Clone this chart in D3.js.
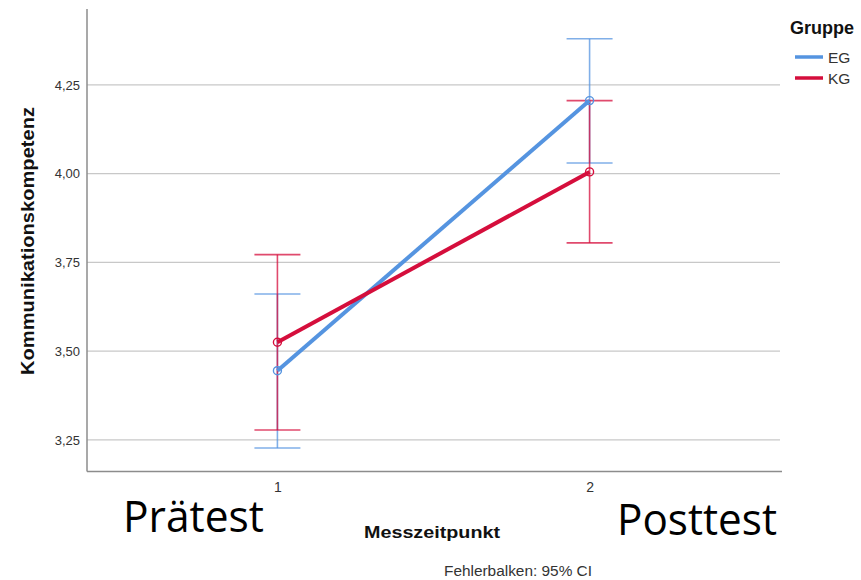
<!DOCTYPE html>
<html><head><meta charset="utf-8">
<script src="https://cdn.jsdelivr.net/npm/d3@7"></script>
<style>body{margin:0;background:#fff}svg{display:block}</style>
</head><body>
<svg id="c" width="861" height="580"></svg>
<script>
// ---- data ----
const timepoints = [1, 2];
const groups = ["EG", "KG"];
const egMean = [3.445, 4.206];
const egLower = [3.227, 4.030];
const egUpper = [3.661, 4.380];
const kgMean = [3.525, 4.005];
const kgLower = [3.278, 3.805];
const kgUpper = [3.772, 4.206];
const yTicks = [3.25, 3.50, 3.75, 4.00, 4.25];
const groupColors = ["#5594E0", "#D50E3C"];

const series = [
  {name: groups[0], mean: egMean, lo: egLower, hi: egUpper, color: groupColors[0]},
  {name: groups[1], mean: kgMean, lo: kgLower, hi: kgUpper, color: groupColors[1]}
];

const svg = d3.select("#c");
const L = 87, R = 780, T = 9, B = 471.5;

const x = d3.scalePoint().domain(timepoints).range([L, R]).padding(0.61);
const y = d3.scaleLinear().domain([3.161, 4.464]).range([B, T]);

// gridlines
svg.append("g").selectAll("line").data(yTicks).join("line")
  .attr("x1", L).attr("x2", R)
  .attr("y1", d => y(d)).attr("y2", d => y(d))
  .attr("stroke", "#c8c8c8").attr("stroke-width", 1.3);

// y axis
const yAxis = svg.append("g").attr("transform", `translate(${L},0)`)
  .call(d3.axisLeft(y).tickValues(yTicks).tickSize(0).tickPadding(7)
    .tickFormat(d => d3.format(".2f")(d).replace(".", ",")));
yAxis.select(".domain").remove();
yAxis.selectAll("text").attr("font-family", "Liberation Sans, Arial, sans-serif")
  .attr("font-size", 13).attr("fill", "#333");

// x axis
const xAxis = svg.append("g").attr("transform", `translate(0,${B})`)
  .call(d3.axisBottom(x).tickSize(0).tickPadding(11).tickFormat(d3.format("d")));
xAxis.select(".domain").remove();
xAxis.selectAll("text").attr("font-family", "Liberation Sans, Arial, sans-serif")
  .attr("font-size", 14).attr("fill", "#333");

// axis lines
svg.append("line").attr("x1", L).attr("x2", L).attr("y1", T).attr("y2", B)
  .attr("stroke", "#8c8c8c").attr("stroke-width", 1.5);
svg.append("line").attr("x1", L).attr("x2", R + 2).attr("y1", B).attr("y2", B)
  .attr("stroke", "#8c8c8c").attr("stroke-width", 1.5);

// error bars
const cap = 23;
series.forEach(s => {
  const g = svg.append("g").attr("stroke", s.color).attr("stroke-opacity", 0.75)
    .attr("stroke-width", 1.6).attr("fill", "none");
  timepoints.forEach((t, i) => {
    g.append("line").attr("x1", x(t)).attr("x2", x(t)).attr("y1", y(s.lo[i])).attr("y2", y(s.hi[i]));
    g.append("line").attr("x1", x(t) - cap).attr("x2", x(t) + cap).attr("y1", y(s.lo[i])).attr("y2", y(s.lo[i]));
    g.append("line").attr("x1", x(t) - cap).attr("x2", x(t) + cap).attr("y1", y(s.hi[i])).attr("y2", y(s.hi[i]));
  });
});

// lines and markers
const line = d3.line().x((d, i) => x(timepoints[i])).y(d => y(d));
series.forEach(s => {
  svg.append("path").datum(s.mean).attr("d", line)
    .attr("fill", "none").attr("stroke", s.color).attr("stroke-width", 4);
  svg.append("g").selectAll("circle").data(s.mean).join("circle")
    .attr("cx", (d, i) => x(timepoints[i])).attr("cy", d => y(d)).attr("r", 4)
    .attr("fill", "none").attr("stroke", s.color).attr("stroke-width", 1.4);
});

// axis titles
svg.append("text").attr("transform", `translate(34,241) rotate(-90)`)
  .attr("text-anchor", "middle").attr("font-family", "Liberation Sans, Arial, sans-serif")
  .attr("font-weight", "bold").attr("font-size", 18).attr("fill", "#111")
  .attr("textLength", 268).attr("lengthAdjust", "spacingAndGlyphs")
  .text("Kommunikationskompetenz");
svg.append("text").attr("x", 432).attr("y", 538)
  .attr("text-anchor", "middle").attr("font-family", "Liberation Sans, Arial, sans-serif")
  .attr("font-weight", "bold").attr("font-size", 17).attr("fill", "#111")
  .attr("textLength", 136).attr("lengthAdjust", "spacingAndGlyphs")
  .text("Messzeitpunkt");
svg.append("text").attr("x", 518).attr("y", 576)
  .attr("text-anchor", "middle").attr("font-family", "Liberation Sans, Arial, sans-serif")
  .attr("font-size", 14).attr("fill", "#333")
  .attr("textLength", 148).attr("lengthAdjust", "spacingAndGlyphs")
  .text("Fehlerbalken: 95% CI");

// big labels
svg.append("text").attr("x", 123).attr("y", 532)
  .attr("font-family", "Open Sans, Noto Sans, sans-serif").attr("font-size", 44).attr("fill", "#000")
  .attr("textLength", 141).attr("lengthAdjust", "spacingAndGlyphs").text("Prätest");
svg.append("text").attr("x", 617).attr("y", 535)
  .attr("font-family", "Open Sans, Noto Sans, sans-serif").attr("font-size", 44).attr("fill", "#000")
  .attr("textLength", 160).attr("lengthAdjust", "spacingAndGlyphs").text("Posttest");

// legend
svg.append("text").attr("x", 790).attr("y", 34)
  .attr("font-family", "Liberation Sans, Arial, sans-serif").attr("font-weight", "bold")
  .attr("font-size", 18).attr("fill", "#111").text("Gruppe");
const leg = svg.append("g").selectAll("g").data(series).join("g")
  .attr("transform", (d, i) => `translate(795,${57 + i * 21})`);
leg.append("line").attr("x1", 0).attr("x2", 28).attr("stroke", d => d.color).attr("stroke-width", 3.5);
leg.append("text").attr("x", 33).attr("y", 6)
  .attr("font-family", "Liberation Sans, Arial, sans-serif").attr("font-size", 15.5).attr("fill", "#333")
  .text(d => d.name);
</script>
</body></html>
